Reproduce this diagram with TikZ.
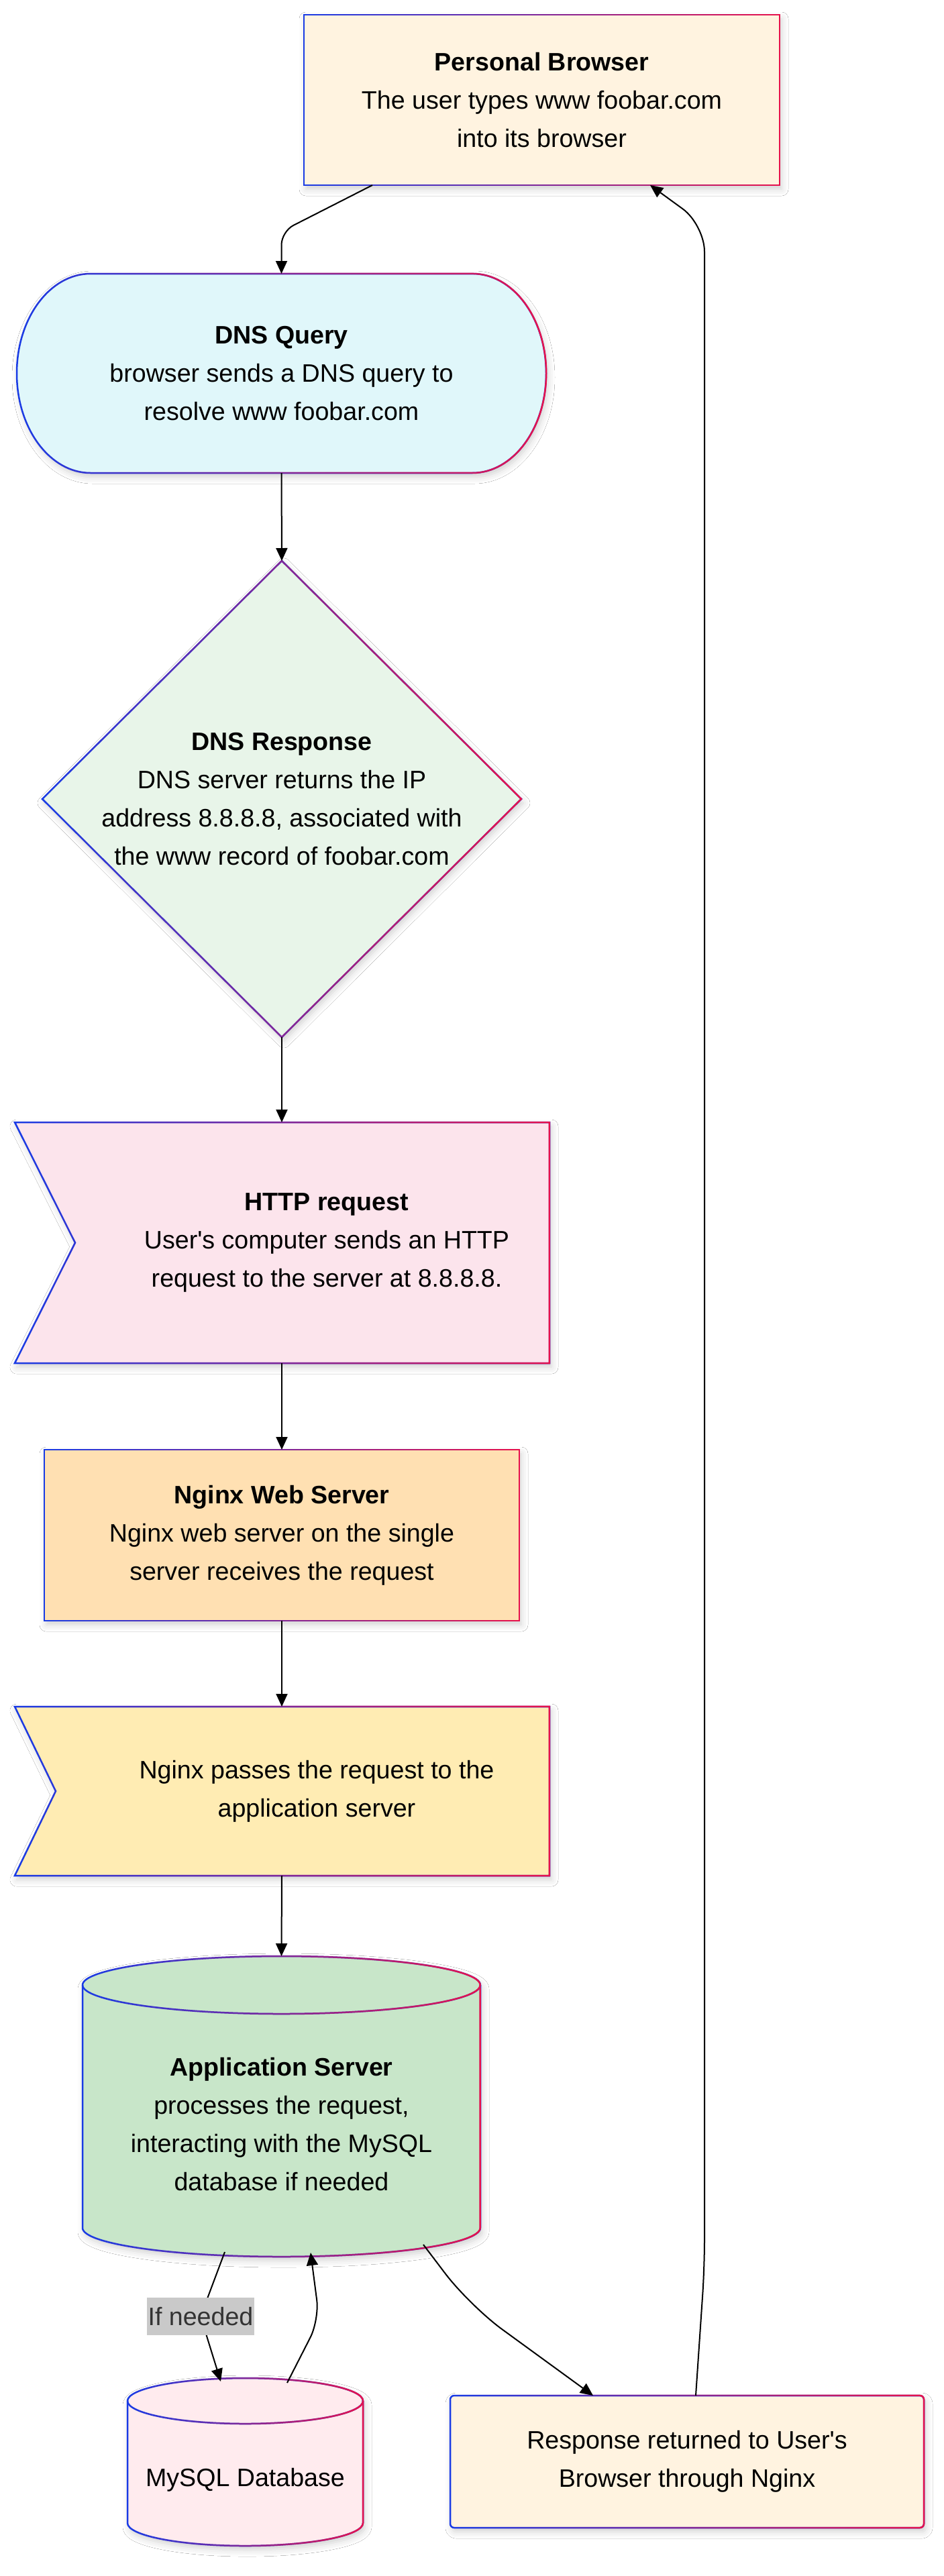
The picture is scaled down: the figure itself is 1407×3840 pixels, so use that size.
\documentclass[tikz,border=0pt]{standalone}
\usepackage{fontspec}
\newfontfamily\lsans{Liberation Sans}
\usetikzlibrary{arrows.meta,calc,fadings,shadows.blur}
\tikzfading[name=fadeLR, left color=transparent!100, right color=transparent!0]
\definecolor{bblue}{RGB}{25,60,230}
\definecolor{bred}{RGB}{232,18,76}
\definecolor{pbfill}{HTML}{FFF3E0}
\definecolor{dqfill}{HTML}{E0F7FA}
\definecolor{drfill}{HTML}{E8F5E9}
\definecolor{hrfill}{HTML}{FCE4EC}
\definecolor{nwfill}{HTML}{FFE0B2}
\definecolor{npfill}{HTML}{FFECB3}
\definecolor{asfill}{HTML}{C8E6C9}
\definecolor{dbfill}{HTML}{FFEBEE}
\definecolor{lblfill}{RGB}{201,201,201}
\definecolor{lbltext}{RGB}{51,51,51}
\tikzset{
  shp/.style={line width=1.25pt, draw=bblue,
    blur shadow={shadow xshift=1.5pt, shadow yshift=-3pt, shadow blur radius=5pt, shadow opacity=18},
    postaction={draw=bred, line width=1.25pt, path fading=fadeLR}},
  edgeonly/.style={line width=1.25pt, draw=bblue,
    postaction={draw=bred, line width=1.25pt, path fading=fadeLR}},
  txt/.style={font=\lsans\fontsize{18.8pt}{28.5pt}\selectfont, align=center, inner sep=0pt, outer sep=0pt},
  arr/.style={draw=black, line width=1pt, -{Triangle[length=9.5pt,width=8.5pt]}},
  lbl/.style={fill=lblfill, text=lbltext, font=\lsans\fontsize{18.8pt}{28.5pt}\selectfont,
    inner xsep=1pt, inner ysep=0pt, minimum height=28pt, outer sep=0pt}
}
\begin{document}
\begin{tikzpicture}[x=0.5pt,y=-0.5pt]
\fill[white] (0,0) rectangle (1407,3840);
\useasboundingbox (0,0) rectangle (1407,3840);

% shapes
\path[shp, fill=pbfill] (453,22) rectangle (1162,276);
\path[shp, fill=dqfill] (135,408) -- (704,408)
  arc[start angle=-90, end angle=90, x radius=110, y radius=148.5] -- (135,705)
  arc[start angle=90, end angle=270, x radius=110, y radius=148.5] -- cycle;
\path[shp, fill=drfill] (420,836) -- (777,1191) -- (420,1546) -- (63,1191) -- cycle;
\path[shp, fill=hrfill] (22,1673) -- (819,1673) -- (819,2032) -- (22,2032) -- (112,1852.5) -- cycle;
\path[shp, fill=nwfill] (66,2161) rectangle (774,2416);
\path[shp, fill=npfill] (22,2544) -- (819,2544) -- (819,2796) -- (22,2796) -- (83,2670) -- cycle;
\path[shp, fill=asfill] (123,2959) -- (123,3321)
  arc[start angle=180, end angle=0, x radius=296.5, y radius=43] -- (716,2959)
  arc[start angle=0, end angle=-180, x radius=296.5, y radius=43] -- cycle;
\path[edgeonly] (123,2959) arc[start angle=180, end angle=0, x radius=296.5, y radius=43];
\path[shp, fill=dbfill] (190,3579) -- (190,3761)
  arc[start angle=180, end angle=0, x radius=175.5, y radius=34] -- (541,3579)
  arc[start angle=0, end angle=-180, x radius=175.5, y radius=34] -- cycle;
\path[edgeonly] (190,3579) arc[start angle=180, end angle=0, x radius=175.5, y radius=34];
\path[shp, fill=pbfill, rounded corners=3pt] (671,3571) rectangle (1377,3768);

% text nodes
\node[txt, minimum width=354.5pt, minimum height=127pt] (pb) at (807.5,149)
  {\textbf{Personal Browser}\\The user types www foobar.com\\into its browser};
\node[txt, minimum width=394.5pt, minimum height=148.5pt] (dq) at (419.5,556.5)
  {\textbf{DNS Query}\\browser sends a DNS query to\\resolve www foobar.com};
\node[txt, minimum width=357pt, minimum height=355pt] (dr) at (420,1191)
  {\textbf{DNS Response}\\DNS server returns the IP\\address 8.8.8.8, associated with\\the www record of foobar.com};
\node[txt, minimum height=179.5pt] (hr) at (487,1852.5)
  {\textbf{HTTP request}\\User's computer sends an HTTP\\request to the server at 8.8.8.8.};
\node[txt, minimum width=354pt, minimum height=127.5pt] (nw) at (420,2288.5)
  {\textbf{Nginx Web Server}\\Nginx web server on the single\\server receives the request};
\node[txt, minimum height=126pt] (np) at (472,2670)
  {Nginx passes the request to the\\application server};
\node[txt, minimum height=251pt] (as) at (419.5,3167)
  {\textbf{Application Server}\\processes the request,\\interacting with the MySQL\\database if needed};
\node[txt, minimum height=152pt] (db) at (365.5,3697) {MySQL Database};
\node[txt, minimum width=353pt, minimum height=98.5pt] (rs) at (1024,3669.5)
  {Response returned to User's\\Browser through Nginx};

% connectors
\draw[arr, rounded corners=10pt] ($(pb.south west)+(102,0)$) -- ($(dq.north)+(0,-63)$) -- (dq.north);
\draw[arr] (dq.south) -- (dr.north);
\draw[arr] (dr.south) -- (dr.south |- hr.north);
\draw[arr] (dr.south |- hr.south) -- (nw.north);
\draw[arr] (nw.south) -- (nw.south |- np.north);
\draw[arr] (nw.south |- np.south) -- (as.north);
\draw[arr] ($(as.center)+(-84.5,190)$) -- ($(as.center)+(-120.5,286)$) node[lbl] (ifn) {If needed}
  -- ($(db.north)+(-36.5,5)$);
\draw[arr, rounded corners=15pt] ($(db.north)+(62.5,7)$) -- ($(db.north)+(110.5,-87)$) -- ($(as.center)+(43.5,191)$);
\draw[arr, rounded corners=30pt] ($(as.center)+(211.5,179)$) -- ($(as.center)+(280.5,270)$) -- ($(rs.north west)+(213,0)$);
\draw[arr, rounded corners=20pt] ($(rs.north west)+(366,0)$) -- ($(rs.north west)+(379,-191)$)
  -- ($(pb.south west)+(597,59)$) -- ($(pb.south west)+(516,0)$);
\end{tikzpicture}
\end{document}
